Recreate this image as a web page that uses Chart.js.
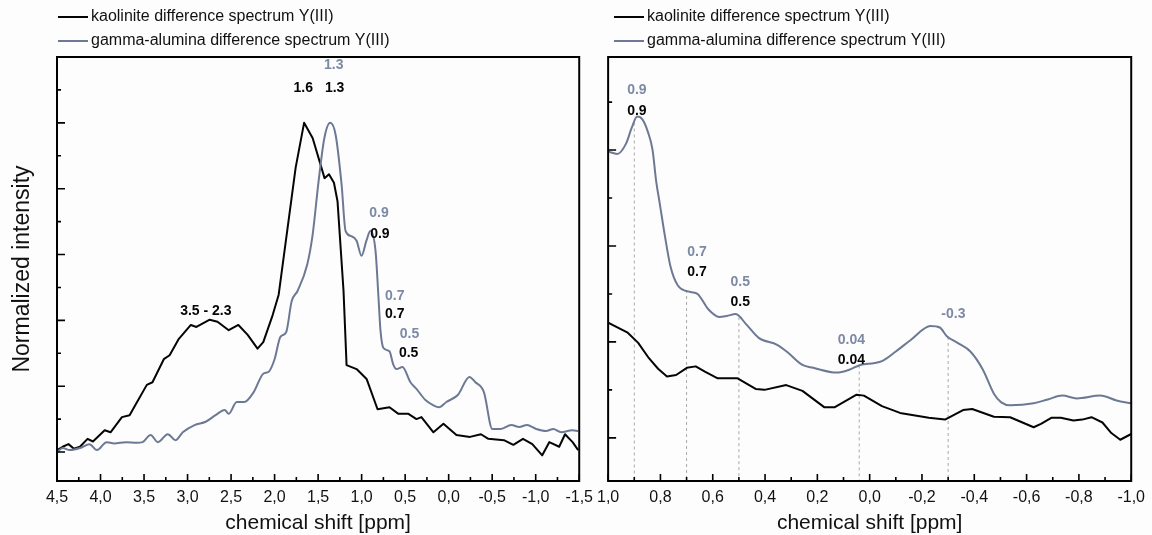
<!DOCTYPE html>
<html>
<head>
<meta charset="utf-8">
<title>Y(III) difference spectra</title>
<script src="https://cdn.jsdelivr.net/npm/chart.js@4.4.1/dist/chart.umd.min.js"></script>
<style>
  html, body { margin: 0; padding: 0; background: #fdfdfd; }
  #wrap { position: relative; width: 1152px; height: 535px; overflow: hidden; background: #fdfdfd; }
  #wrap canvas { position: absolute; top: 0; }
  #left { left: 0; }
  #right { left: 590px; }
</style>
</head>
<body>
<div id="wrap">
  <canvas id="left" width="600" height="535"></canvas>
  <canvas id="right" width="562" height="535"></canvas>
</div>
<script>
// ---- series: full range (4.5 .. -1.5 ppm) ----
const kaoFullPpm = [4.50, 4.435, 4.368, 4.305, 4.236, 4.149, 4.087, 3.952, 3.885, 3.754, 3.666, 3.580, 3.468, 3.403,
  3.273, 3.206, 3.100, 2.962, 2.898, 2.745, 2.656, 2.527, 2.416, 2.309, 2.196, 2.130, 2.022, 1.953, 1.758, 1.661,
  1.563, 1.426, 1.375, 1.318, 1.277, 1.208, 1.173, 1.058, 0.943, 0.817, 0.680, 0.577, 0.462, 0.370, 0.313, 0.175,
  0.060, -0.089, -0.245, -0.371, -0.456, -0.635, -0.743, -0.854, -0.961, -1.075, -1.156, -1.270, -1.337, -1.424, -1.488];
const kaoFullInt = [0.03, 0.08, 0.12, 0.05, 0.08, 0.20, 0.16, 0.33, 0.30, 0.53, 0.56, 0.76, 1.02, 1.06,
  1.41, 1.47, 1.72, 1.93, 1.90, 2.01, 1.98, 1.85, 1.93, 1.78, 1.57, 1.67, 2.08, 2.39, 4.32, 5.00,
  4.77, 4.16, 4.22, 4.09, 3.81, 2.45, 1.32, 1.26, 1.11, 0.65, 0.68, 0.58, 0.58, 0.50, 0.53, 0.30,
  0.43, 0.26, 0.23, 0.27, 0.20, 0.18, 0.11, 0.20, 0.12, -0.05, 0.15, 0.08, 0.27, 0.15, 0.03];

const gammaFullPpm = [4.50, 4.435, 4.351, 4.236, 4.127, 4.041, 3.930, 3.842, 3.708, 3.582, 3.517, 3.425, 3.341,
  3.227, 3.139, 3.055, 2.920, 2.791, 2.678, 2.573, 2.527, 2.435, 2.349, 2.240, 2.130, 2.068, 2.000, 1.933, 1.867,
  1.804, 1.735, 1.625, 1.563, 1.494, 1.428, 1.362, 1.299, 1.230, 1.185, 1.120, 1.058, 1.001, 0.945, 0.898, 0.840,
  0.806, 0.783, 0.749, 0.680, 0.639, 0.600, 0.531, 0.439, 0.370, 0.267, 0.175, 0.112, 0.026, -0.108, -0.238,
  -0.307, -0.405, -0.502, -0.591, -0.720, -0.811, -0.898, -1.007, -1.118, -1.202, -1.293, -1.419, -1.488];
const gammaFullInt = [0.00, 0.06, 0.03, 0.06, 0.12, 0.03, 0.15, 0.13, 0.15, 0.14, 0.15, 0.26, 0.15,
  0.27, 0.18, 0.30, 0.41, 0.46, 0.56, 0.64, 0.58, 0.76, 0.76, 0.91, 1.19, 1.22, 1.41, 1.75, 1.82,
  2.29, 2.45, 2.85, 3.30, 4.12, 4.77, 5.00, 4.82, 4.06, 3.36, 3.28, 3.21, 2.98, 3.21, 3.36, 3.05,
  2.34, 1.84, 1.58, 1.53, 1.34, 1.26, 1.29, 1.06, 0.96, 0.79, 0.71, 0.68, 0.76, 0.87, 1.14,
  1.06, 0.91, 0.35, 0.35, 0.41, 0.38, 0.41, 0.35, 0.32, 0.35, 0.30, 0.33, 0.32];

// ---- series: expanded range (1.0 .. -1.0 ppm) ----
const kaoZoomPpm = [1.000, 0.927, 0.885, 0.844, 0.809, 0.775, 0.740, 0.699, 0.665, 0.630, 0.581, 0.505, 0.436,
  0.402, 0.319, 0.257, 0.174, 0.133, 0.050, 0.022, -0.047, -0.116, -0.226, -0.288, -0.357, -0.392, -0.475,
  -0.537, -0.627, -0.655, -0.696, -0.731, -0.779, -0.813, -0.848, -0.890, -0.924, -0.958, -1.000];
const kaoZoomInt = [1.20, 1.10, 0.99, 0.83, 0.72, 0.64, 0.655, 0.73, 0.745, 0.69, 0.62, 0.62, 0.51,
  0.50, 0.55, 0.49, 0.32, 0.32, 0.45, 0.44, 0.33, 0.26, 0.21, 0.19, 0.29, 0.30, 0.22,
  0.215, 0.11, 0.145, 0.21, 0.21, 0.18, 0.19, 0.215, 0.16, 0.05, -0.02, 0.04];

const gammaZoomPpm = [1.000, 0.965, 0.931, 0.910, 0.889, 0.869, 0.848, 0.830, 0.817, 0.803, 0.782, 0.761, 0.734,
  0.685, 0.658, 0.617, 0.575, 0.547, 0.512, 0.471, 0.423, 0.354, 0.313, 0.257, 0.216, 0.126, 0.078, 0.036,
  -0.019, -0.047, -0.100, -0.157, -0.233, -0.268, -0.295, -0.336, -0.385, -0.433, -0.475, -0.503, -0.537,
  -0.627, -0.681, -0.737, -0.792, -0.882, -0.944, -1.000];
const gammaZoomInt = [2.985, 2.96, 3.07, 3.23, 3.35, 3.32, 3.19, 3.00, 2.69, 2.45, 2.09, 1.78, 1.59,
  1.52, 1.50, 1.34, 1.26, 1.27, 1.29, 1.18, 1.04, 0.97, 0.89, 0.76, 0.73, 0.68, 0.71, 0.76,
  0.78, 0.80, 0.90, 1.02, 1.165, 1.15, 1.06, 0.99, 0.90, 0.71, 0.46, 0.37, 0.34, 0.36,
  0.40, 0.44, 0.41, 0.44, 0.39, 0.36];

// ---- axis ranges ----
const fullRange = [-1.5, 4.5];
const zoomRange = [-1.0, 1.0];
const fullIntRange = [-0.44, 6.0];
const zoomIntRange = [-0.45, 3.97];

// ---- peak assignments (ppm) ----
const zoomMarkers = [0.9, 0.7, 0.5, 0.04, -0.3];

const fullPeakLabels = [
  { text: '1.3', series: 'gamma', ppm: 1.32, level: 5.87 },
  { text: '1.6', series: 'kaolinite', ppm: 1.67, level: 5.53 },
  { text: '1.3', series: 'kaolinite', ppm: 1.31, level: 5.53 },
  { text: '0.9', series: 'gamma', ppm: 0.80, level: 3.63 },
  { text: '0.9', series: 'kaolinite', ppm: 0.79, level: 3.31 },
  { text: '0.7', series: 'gamma', ppm: 0.62, level: 2.37 },
  { text: '0.7', series: 'kaolinite', ppm: 0.62, level: 2.09 },
  { text: '0.5', series: 'gamma', ppm: 0.45, level: 1.79 },
  { text: '0.5', series: 'kaolinite', ppm: 0.46, level: 1.50 },
  { text: '3.5 - 2.3', series: 'kaolinite', ppm: 2.79, level: 2.14 }
];
const zoomPeakLabels = [
  { text: '0.9', series: 'gamma', ppm: 0.89, level: 3.62 },
  { text: '0.9', series: 'kaolinite', ppm: 0.89, level: 3.41 },
  { text: '0.7', series: 'gamma', ppm: 0.66, level: 1.94 },
  { text: '0.7', series: 'kaolinite', ppm: 0.66, level: 1.73 },
  { text: '0.5', series: 'gamma', ppm: 0.495, level: 1.62 },
  { text: '0.5', series: 'kaolinite', ppm: 0.495, level: 1.41 },
  { text: '0.04', series: 'gamma', ppm: 0.07, level: 1.02 },
  { text: '0.04', series: 'kaolinite', ppm: 0.07, level: 0.81 },
  { text: '-0.3', series: 'gamma', ppm: -0.32, level: 1.29 }
];

const seriesNames = {
  kaolinite: 'kaolinite difference spectrum Y(III)',
  gamma: 'gamma-alumina difference spectrum Y(III)'
};

// ---- styling ----
const FONT = '"Liberation Sans", Arial, Helvetica, sans-serif';
const KAO_COLOR = '#050505';
const GAMMA_COLOR = '#6d7994';
const GAMMA_TEXT = '#7d89a5';
const TEXT_COLOR = '#111111';
const CANVAS_H = 535;
const FRAME_TOP = 57;
const FRAME_BOTTOM = 481;

const fmtPpm = v => (Math.abs(v) < 1e-9 ? 0 : v).toFixed(1).replace('.', ',');
const isMultiple = (v, step) => Math.abs(v / step - Math.round(v / step)) < 1e-6;
const toPoints = (xs, ys) => xs.map((p, i) => ({ x: p, y: ys[i] }));

function interpolate(xs, ys, at) {
  for (let i = 0; i < xs.length - 1; i++) {
    const a = xs[i], b = xs[i + 1];
    if ((at <= a && at >= b) || (at >= a && at <= b)) {
      const t = (at - a) / (b - a);
      return ys[i] + t * (ys[i + 1] - ys[i]);
    }
  }
  return ys[ys.length - 1];
}

// frame, inward ticks, peak labels and legend for one panel
function makePanelDecor(cfg) {
  return {
    id: 'panelDecor',
    afterDatasetsDraw(chart) {
      const { ctx, chartArea: a } = chart;
      const x = chart.scales.x, y = chart.scales.y;
      ctx.save();

      ctx.strokeStyle = '#000';
      ctx.lineWidth = 1.6;
      ctx.beginPath();
      for (let i = 0; ; i++) {
        const v = x.min + i * cfg.xMinor;
        if (v > x.max + 1e-9) break;
        const px = x.getPixelForValue(v);
        ctx.moveTo(px, a.bottom);
        ctx.lineTo(px, a.bottom - (isMultiple(v, cfg.xMajor) ? 7 : 4));
      }
      const y0 = Math.ceil(y.min / cfg.yMinor - 1e-9) * cfg.yMinor;
      for (let i = 0; ; i++) {
        const v = y0 + i * cfg.yMinor;
        if (v > y.max - 0.05) break;
        const py = y.getPixelForValue(v);
        ctx.moveTo(a.left, py);
        ctx.lineTo(a.left + (isMultiple(v, cfg.yMajor) ? 8 : 4), py);
      }
      ctx.stroke();

      ctx.lineWidth = 2;
      ctx.strokeRect(a.left, a.top, a.right - a.left, a.bottom - a.top);

      ctx.font = 'bold 14px ' + FONT;
      ctx.textAlign = 'center';
      ctx.textBaseline = 'middle';
      cfg.labels.forEach(l => {
        ctx.fillStyle = l.series === 'gamma' ? GAMMA_TEXT : KAO_COLOR;
        ctx.fillText(l.text, x.getPixelForValue(l.ppm), y.getPixelForValue(l.level));
      });

      ctx.font = '16px ' + FONT;
      ctx.textAlign = 'left';
      chart.data.datasets.filter(d => d.label).forEach((d, i) => {
        const ly = cfg.legendRows[i];
        ctx.strokeStyle = d.borderColor;
        ctx.lineWidth = 2;
        ctx.beginPath();
        ctx.moveTo(cfg.legendX, ly);
        ctx.lineTo(cfg.legendX + 30, ly);
        ctx.stroke();
        ctx.fillStyle = TEXT_COLOR;
        ctx.fillText(d.label, cfg.legendX + 33, ly);
      });
      ctx.restore();
    }
  };
}

function curveDatasets(kaoX, kaoY, gamX, gamY) {
  return [
    {
      label: seriesNames.kaolinite,
      data: toPoints(kaoX, kaoY),
      borderColor: KAO_COLOR,
      borderWidth: 2,
      tension: 0,
      borderJoinStyle: 'round',
      pointRadius: 0,
      order: 1
    },
    {
      label: seriesNames.gamma,
      data: toPoints(gamX, gamY),
      borderColor: GAMMA_COLOR,
      borderWidth: 2,
      cubicInterpolationMode: 'monotone',
      borderJoinStyle: 'round',
      pointRadius: 0,
      order: 0
    }
  ];
}

function buildOptions(range, intRange, xStep, leftWidth, rightPad, withYTitle) {
  return {
    responsive: false,
    animation: false,
    devicePixelRatio: 1,
    events: [],
    layout: { padding: { top: FRAME_TOP, right: rightPad, left: 0, bottom: 0 } },
    plugins: { legend: { display: false }, tooltip: { enabled: false } },
    scales: {
      x: {
        type: 'linear',
        reverse: true,
        min: range[0],
        max: range[1],
        grid: { display: false, drawTicks: false },
        border: { display: false },
        ticks: {
          stepSize: xStep,
          autoSkip: false,
          maxRotation: 0,
          padding: 7,
          color: TEXT_COLOR,
          font: { family: FONT, size: 16 },
          callback: v => fmtPpm(v)
        },
        title: {
          display: true,
          text: 'chemical shift [ppm]',
          color: TEXT_COLOR,
          font: { family: FONT, size: 21, lineHeight: 1 },
          padding: { top: 0, bottom: 1 }
        },
        afterFit(scale) { scale.height = CANVAS_H - FRAME_BOTTOM; }
      },
      y: {
        type: 'linear',
        min: intRange[0],
        max: intRange[1],
        grid: { display: false, drawTicks: false },
        border: { display: false },
        ticks: { display: false },
        title: {
          display: withYTitle,
          text: 'Normalized intensity',
          color: TEXT_COLOR,
          font: { family: FONT, size: 23, lineHeight: 1 },
          padding: { top: 11, bottom: 0 }
        },
        afterFit(scale) { scale.width = leftWidth; }
      }
    }
  };
}

// left panel: full chemical-shift range
new Chart(document.getElementById('left'), {
  type: 'line',
  data: { datasets: curveDatasets(kaoFullPpm, kaoFullInt, gammaFullPpm, gammaFullInt) },
  options: buildOptions(fullRange, fullIntRange, 0.5, 57, 20, true),
  plugins: [makePanelDecor({
    xMajor: 0.5, xMinor: 0.25, yMajor: 1, yMinor: 0.5,
    labels: fullPeakLabels, legendX: 58, legendRows: [17, 41]
  })]
});

// right panel: expanded 1.0 .. -1.0 ppm with dashed peak markers
const markerSets = zoomMarkers.map(m => ({
  data: [{ x: m, y: interpolate(gammaZoomPpm, gammaZoomInt, m) }, { x: m, y: zoomIntRange[0] }],
  borderColor: '#a9a9a9',
  borderWidth: 1,
  borderDash: [3, 3],
  pointRadius: 0,
  order: 5
}));

new Chart(document.getElementById('right'), {
  type: 'line',
  data: { datasets: curveDatasets(kaoZoomPpm, kaoZoomInt, gammaZoomPpm, gammaZoomInt).concat(markerSets) },
  options: buildOptions(zoomRange, zoomIntRange, 0.2, 17, 18, false),
  plugins: [makePanelDecor({
    xMajor: 0.2, xMinor: 0.1, yMajor: 1, yMinor: 0.5,
    labels: zoomPeakLabels, legendX: 24, legendRows: [17, 41]
  })]
});
</script>
</body>
</html>
